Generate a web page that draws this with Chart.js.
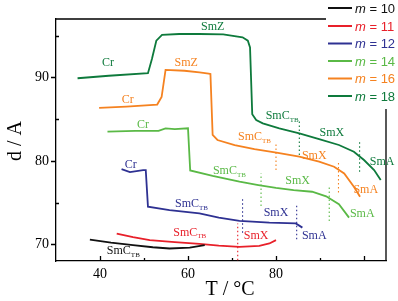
<!DOCTYPE html>
<html>
<head>
<meta charset="UTF-8">
<title>d vs T</title>
<script src="https://cdn.jsdelivr.net/npm/chart.js@4.4.1/dist/chart.umd.min.js"></script>
<style>
  body { margin: 0; background: #fff; }
</style>
</head>
<body>
<canvas id="myChart" width="398" height="301"></canvas>
<script>
// curves: temperature (°C) and layer spacing d (A)
var T10 = [37.7, 42.5, 47.5, 52, 55.8, 60.4, 63.8];
var d10 = [70.55, 70.2, 69.9, 69.65, 69.5, 69.6, 69.9];
var T11 = [43.8, 47.5, 51.3, 57, 62.6, 67, 71.7, 76.2, 78.5, 80.0];
var d11 = [71.27, 70.85, 70.5, 70.25, 70.05, 69.85, 69.7, 69.8, 70.1, 70.5];
var T12 = [44.9, 46.8, 49.8, 50.4, 50.9, 55.8, 62.6, 67, 71.7, 78.5, 84.5, 86.0];
var d12 = [79.0, 78.65, 78.9, 78.9, 74.5, 74.1, 73.7, 73.2, 72.8, 72.6, 72.5, 72.0];
var T14 = [41.7, 48, 53.3, 54.9, 57, 60.0, 60.5, 65.6, 71.7, 76, 80, 84, 88.2, 91.4, 94.3, 96.6];
var d14 = [83.5, 83.6, 83.6, 83.9, 83.8, 83.9, 78.85, 78.2, 77.5, 77.1, 76.75, 76.5, 76.3, 75.75, 74.8, 73.2];
var T16 = [39.8, 46, 53.0, 54.0, 54.9, 59.2, 62.6, 64.7, 65.1, 65.6, 66.7, 70.6, 75.1, 80.1, 85.3, 89.8, 93.2, 95.5, 97.7, 99.1];
var d16 = [86.35, 86.5, 86.75, 87.65, 90.9, 90.8, 90.6, 90.45, 90.4, 83.1, 82.5, 81.9, 81.4, 81.0, 80.5, 79.9, 79.3, 78.5, 76.9, 75.7];
var T18 = [34.9, 42, 50.9, 51.8, 52.8, 54.1, 58, 62.6, 68, 72.4, 73.6, 74.1, 74.6, 75.5, 77, 80.75, 85.3, 89.8, 94.3, 97.7, 100, 102.3, 103.8];
var d18 = [89.9, 90.2, 90.5, 92.2, 94.4, 95.1, 95.2, 95.2, 95.15, 94.8, 94.4, 93.6, 85.6, 84.9, 84.5, 83.9, 83.3, 82.6, 81.9, 81.1, 80.1, 78.9, 77.7];

var seriesNames = ['10', '11', '12', '14', '16', '18'];
var seriesColors = ['#111111', '#e8202a', '#2e3192', '#5ab946', '#f58220', '#0e7a3c'];
var seriesT = [T10, T11, T12, T14, T16, T18];
var seriesD = [d10, d11, d12, d14, d16, d18];

// dotted phase-transition markers
var transT      = [71.3, 72.4, 84.7, 76.6, 92.1, 80.0, 94.2, 85.3, 99.0];
var transLo     = [68.1, 71.4, 70.6, 74.6, 72.8, 78.9, 76.2, 80.7, 78.7];
var transHi     = [72.5, 75.4, 74.8, 78.5, 76.8, 82.1, 79.8, 84.9, 82.5];
var transSeries = [1, 2, 2, 3, 3, 4, 4, 5, 5];

// phase labels
var labelText   = ['Cr', 'SmZ', 'SmC|TB', 'SmX', 'SmA',
                   'Cr', 'SmZ', 'SmC|TB', 'SmX', 'SmA',
                   'Cr', 'SmC|TB', 'SmX', 'SmA',
                   'Cr', 'SmC|TB', 'SmX', 'SmA',
                   'SmC|TB', 'SmX',
                   'SmC|TB'];
var labelT      = [41.8, 65.6, 81.4, 92.7, 104.1,
                   46.3, 59.6, 75.1, 88.7, 100.4,
                   49.8, 69.4, 84.9, 99.6,
                   47.0, 60.8, 80.0, 88.7,
                   60.4, 75.5,
                   45.3];
var labelD      = [91.8, 96.1, 85.4, 83.4, 79.9,
                   87.35, 91.7, 82.9, 80.6, 76.5,
                   84.3, 78.8, 77.65, 73.6,
                   79.5, 74.8, 73.8, 71.0,
                   71.4, 71.0,
                   69.2];
var labelSeries = [5, 5, 5, 5, 5,
                   4, 4, 4, 4, 4,
                   3, 3, 3, 3,
                   2, 2, 2, 2,
                   1, 1,
                   0];

function toPoints(xs, ys) {
    var pts = [];
    for (var i = 0; i < xs.length; i++) pts.push({x: xs[i], y: ys[i]});
    return pts;
}

var datasets = [];
for (var i = 0; i < seriesT.length; i++) {
    datasets.push({
        data: toPoints(seriesT[i], seriesD[i]),
        borderColor: seriesColors[i],
        borderWidth: 1.8,
        showLine: true,
        pointRadius: 0,
        tension: 0
    });
}
for (var j = 0; j < transT.length; j++) {
    datasets.push({
        data: [{x: transT[j], y: transLo[j]}, {x: transT[j], y: transHi[j]}],
        borderColor: seriesColors[transSeries[j]],
        borderWidth: 1.1,
        borderDash: [1.5, 2.5],
        showLine: true,
        pointRadius: 0
    });
}

var serif = '"Liberation Serif", "Times New Roman", serif';
var sans = '"Liberation Sans", Arial, sans-serif';

// ticks, frame, labels, axis titles and legend
var decorations = {
    id: 'decorations',
    afterDraw: function(chart) {
        var ctx = chart.ctx;
        var xs = chart.scales.x, ys = chart.scales.y;
        var a = chart.chartArea;
        ctx.save();
        ctx.strokeStyle = '#000';
        ctx.lineWidth = 1.3;
        // frame top and right
        ctx.beginPath();
        ctx.moveTo(a.left, a.top); ctx.lineTo(a.right, a.top);
        ctx.lineTo(a.right, a.bottom);
        ctx.stroke();
        // x ticks (inward)
        ctx.beginPath();
        [40, 50, 60, 70, 80, 90, 100].forEach(function(v) {
            var px = Math.round(xs.getPixelForValue(v)) + 0.5;
            var len = (v % 20 === 0) ? 5 : 3;
            ctx.moveTo(px, a.bottom); ctx.lineTo(px, a.bottom - len);
        });
        // y ticks: major outward, minor inward
        [70, 80, 90].forEach(function(v) {
            var py = Math.round(ys.getPixelForValue(v)) + 0.5;
            ctx.moveTo(a.left, py); ctx.lineTo(a.left - 5, py);
        });
        [75, 85, 95].forEach(function(v) {
            var py = Math.round(ys.getPixelForValue(v)) + 0.5;
            ctx.moveTo(a.left, py); ctx.lineTo(a.left + 3, py);
        });
        ctx.stroke();

        // phase labels
        ctx.textBaseline = 'middle';
        for (var k = 0; k < labelText.length; k++) {
            var parts = labelText[k].split('|');
            var px = xs.getPixelForValue(labelT[k]);
            var py = ys.getPixelForValue(labelD[k]);
            ctx.fillStyle = seriesColors[labelSeries[k]];
            ctx.font = '12px ' + serif;
            var w1 = ctx.measureText(parts[0]).width;
            var w2 = 0;
            if (parts.length > 1) {
                ctx.font = '7px ' + serif;
                w2 = ctx.measureText(parts[1]).width;
            }
            var x0 = px - (w1 + w2) / 2;
            ctx.textAlign = 'left';
            ctx.font = '12px ' + serif;
            ctx.fillText(parts[0], x0, py);
            if (parts.length > 1) {
                ctx.font = '7px ' + serif;
                ctx.fillText(parts[1], x0 + w1, py + 4);
            }
        }

        // axis titles
        ctx.fillStyle = '#000';
        ctx.font = '20px ' + serif;
        ctx.textAlign = 'center';
        ctx.fillText('T / \u00B0C', 230, 290);
        ctx.save();
        ctx.translate(16, 141);
        ctx.rotate(-Math.PI / 2);
        ctx.fillText('d / A', 0, 0);
        ctx.restore();

        // legend
        ctx.fillStyle = '#fff';
        ctx.fillRect(326, 0, 72, 109);
        var rows = [8, 26, 43.5, 61, 78.5, 96];
        for (var r = 0; r < seriesNames.length; r++) {
            ctx.strokeStyle = seriesColors[r];
            ctx.lineWidth = 2;
            ctx.beginPath();
            ctx.moveTo(328, rows[r]); ctx.lineTo(352, rows[r]);
            ctx.stroke();
            ctx.fillStyle = seriesColors[r];
            ctx.textAlign = 'left';
            ctx.font = 'italic 13px ' + sans;
            ctx.fillText('m', 355, rows[r] + 1);
            var mw = ctx.measureText('m').width;
            ctx.font = '13px ' + sans;
            ctx.fillText(' = ' + seriesNames[r], 355 + mw, rows[r] + 1);
        }
        ctx.restore();
    }
};

var ctx = document.getElementById('myChart').getContext('2d');
var chart = new Chart(ctx, {
    type: 'scatter',
    data: { datasets: datasets },
    options: {
        responsive: false,
        animation: false,
        layout: { padding: { left: 0, right: 12, top: 19, bottom: 0 } },
        plugins: { legend: { display: false }, tooltip: { enabled: false } },
        scales: {
            x: {
                type: 'linear', min: 30, max: 105,
                grid: { display: false, drawTicks: false },
                border: { display: true, color: '#000', width: 1.3 },
                ticks: {
                    stepSize: 10, padding: 5, color: '#000',
                    font: { family: serif, size: 14 },
                    callback: function(v) { return (v % 20 === 0 && v >= 40) ? v : ''; }
                },
                afterFit: function(s) { s.height = 40; }
            },
            y: {
                type: 'linear', min: 68, max: 97,
                grid: { display: false, drawTicks: false },
                border: { display: true, color: '#000', width: 1.3 },
                ticks: {
                    stepSize: 10, padding: 7, color: '#000',
                    font: { family: serif, size: 14 },
                    callback: function(v) { return (v % 10 === 0) ? v : ''; }
                },
                afterBuildTicks: function(s) {
                    s.ticks = [{value: 70}, {value: 80}, {value: 90}];
                },
                afterFit: function(s) { s.width = 56; }
            }
        }
    },
    plugins: [decorations]
});
</script>
</body>
</html>
